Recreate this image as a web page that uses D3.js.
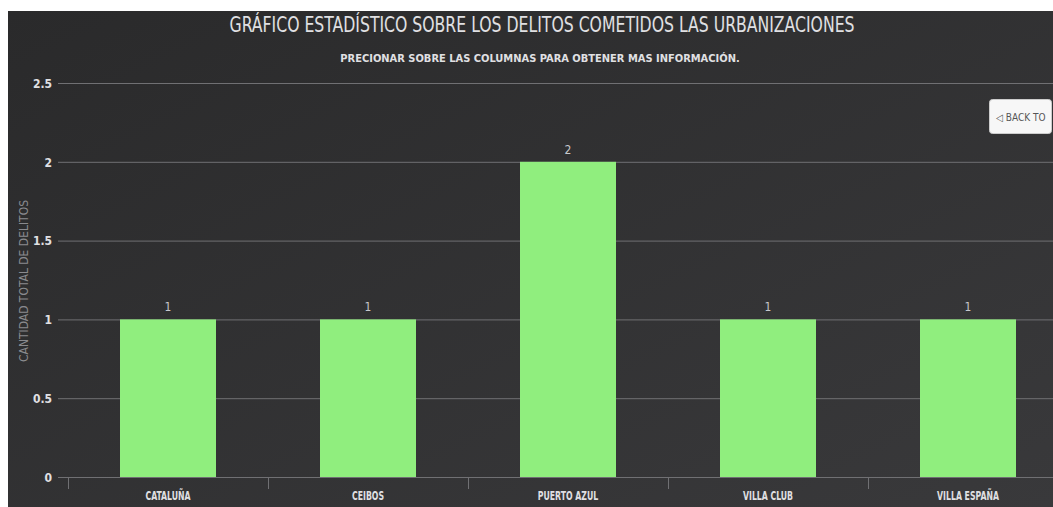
<!DOCTYPE html>
<html><head><meta charset="utf-8">
<script src="https://cdn.jsdelivr.net/npm/d3@7"></script>
<style>
html,body{margin:0;padding:0;background:#fff;overflow:hidden;}
svg{display:block;}
text{font-family:"DejaVu Sans Condensed","Liberation Sans","Roboto",sans-serif;}
</style></head>
<body>
<script>
const categories = ["cataluña", "ceibos", "puerto azul", "villa club", "villa españa"];
const values = [1, 1, 2, 1, 1];
const yTicks = [0, 0.5, 1, 1.5, 2, 2.5];
const titleText = "GRÁFICO ESTADÍSTICO SOBRE LOS DELITOS COMETIDOS LAS URBANIZACIONES";
const subtitleText = "PRECIONAR SOBRE LAS COLUMNAS PARA OBTENER MAS INFORMACIÓN.";
const yAxisTitle = "cantidad total de delitos";
const backLabel = "◁ Back to";

const W = 1053, H = 507;
const svg = d3.select("body").append("svg").attr("width", W).attr("height", H);

const defs = svg.append("defs");
const grad = defs.append("linearGradient").attr("id","bg").attr("x1",0).attr("y1",0).attr("x2",1).attr("y2",1);
grad.append("stop").attr("offset","0%").attr("stop-color","#2a2a2b");
grad.append("stop").attr("offset","100%").attr("stop-color","#39393b");

svg.append("rect").attr("x",8).attr("y",11).attr("width",W-8).attr("height",H-11).attr("fill","url(#bg)");

const plotLeft = 68, plotRight = 1068, plotTop = 83, plotBottom = 477;
const x = d3.scaleBand().domain(categories).range([plotLeft, plotRight]).paddingInner(0.52).paddingOuter(0.26);
const y = d3.scaleLinear().domain([0, 2.5]).range([plotBottom, plotTop]);

// grid
svg.append("g").selectAll("line").data(yTicks.filter(d=>d>0)).join("line")
  .attr("x1", 58).attr("x2", W).attr("y1", d=>y(d)+0.5).attr("y2", d=>y(d)+0.5)
  .attr("stroke","#707073").attr("stroke-width",1);

// y labels
const yAxis = d3.axisLeft(y).tickValues(yTicks).tickSize(0).tickPadding(0).tickFormat(d=>String(d));
const gy = svg.append("g").attr("transform",`translate(52,0)`).call(yAxis);
gy.select(".domain").remove();
gy.selectAll("text").attr("fill","#E0E0E3").attr("font-size",12).attr("font-weight","bold").attr("dy","0.35em");

// bars
svg.append("g").selectAll("rect").data(categories).join("rect")
  .attr("x", d=>x(d)).attr("width", x.bandwidth())
  .attr("y", (d,i)=>y(values[i])).attr("height",(d,i)=>plotBottom - y(values[i]))
  .attr("fill","#90ee7e");

// data labels
svg.append("g").selectAll("text").data(categories).join("text")
  .attr("x", d=>x(d)+x.bandwidth()/2).attr("y",(d,i)=>y(values[i])-8)
  .attr("text-anchor","middle").attr("font-size",12).attr("fill","#c8c8cc")
  .text((d,i)=>values[i]);

// x axis
const xAxisScale = d3.scaleBand().domain(categories).range([plotLeft, plotRight]);
const gx = svg.append("g").attr("transform",`translate(0,${plotBottom})`)
  .call(d3.axisBottom(xAxisScale).tickSize(0).tickPadding(14));
gx.select(".domain").attr("stroke","#707073").attr("d",`M58,0.5H${W}`);
gx.selectAll("text").attr("fill","#E0E0E3").attr("font-size",12).attr("font-weight","bold")
  .attr("transform","scale(0.72,1)").text(d=>d.toUpperCase());
svg.append("g").selectAll("line").data(categories).join("line")
  .attr("x1", d=>xAxisScale(d)+0.5).attr("x2", d=>xAxisScale(d)+0.5)
  .attr("y1", plotBottom).attr("y2", plotBottom+12)
  .attr("stroke","#707073");

// y axis title
svg.append("text").attr("transform",`translate(24,${281}) rotate(-90)`)
  .attr("text-anchor","middle").attr("dominant-baseline","middle").attr("font-size",13).attr("fill","#8a8a8e")
  .attr("textLength",162).attr("lengthAdjust","spacingAndGlyphs").text(yAxisTitle.toUpperCase());

// title & subtitle
svg.append("text").attr("x", 542).attr("y", 32).attr("text-anchor","middle")
  .attr("font-size",22).attr("fill","#E0E0E3").attr("textLength",625).attr("lengthAdjust","spacingAndGlyphs").text(titleText);
svg.append("text").attr("x", 540).attr("y", 62).attr("text-anchor","middle")
  .attr("font-size",11).attr("font-weight","bold").attr("fill","#E0E0E3").text(subtitleText);

// back button
svg.append("rect").attr("x",989.5).attr("y",99.5).attr("width",62).attr("height",34).attr("rx",3)
  .attr("fill","#f7f7f7").attr("stroke","#cccccc");
svg.append("text").attr("x",996).attr("y",121).attr("font-size",10).attr("fill","#555")
  .text(backLabel.toUpperCase());
</script>
</body></html>
